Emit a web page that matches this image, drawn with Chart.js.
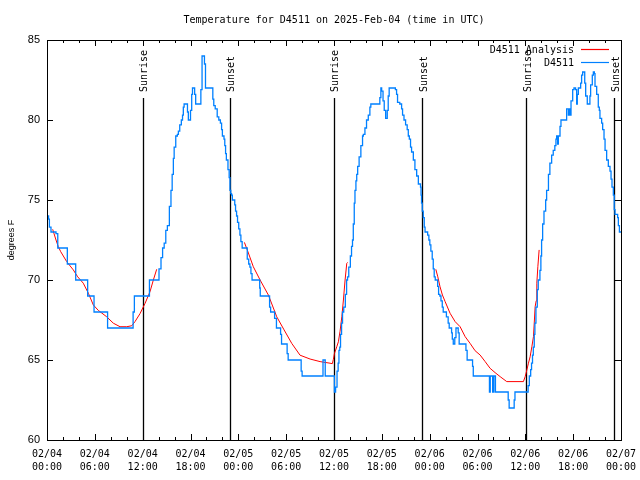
<!DOCTYPE html>
<html><head><meta charset="utf-8">
<script src="https://cdn.jsdelivr.net/npm/chart.js@4"></script>
<style>html,body{margin:0;padding:0;background:#fff}</style>
</head><body>
<canvas id="c" width="640" height="480"></canvas>
<script>
const titleText = 'Temperature for D4511 on 2025-Feb-04 (time in UTC)';
const yAxisTitle = 'degrees F';
const xTickLabels = [['02/04','00:00'],['02/04','06:00'],['02/04','12:00'],['02/04','18:00'],
  ['02/05','00:00'],['02/05','06:00'],['02/05','12:00'],['02/05','18:00'],
  ['02/06','00:00'],['02/06','06:00'],['02/06','12:00'],['02/06','18:00'],['02/07','00:00']];
const seriesNames = ['D4511 Analysis', 'D4511'];

// hours since 02/04 00:00 UTC
const blueHours = [0.0,0.2,0.3,0.5,1.13,1.35,2.55,3.6,5.1,5.9,7.6,10.8,10.96,12.85,14.05,14.3,14.5,14.7,14.9,15.1,15.35,15.55,15.7,15.85,15.95,16.15,16.35,16.48,16.65,16.85,17.0,17.1,17.2,17.62,17.73,18.0,18.15,18.25,18.52,18.65,19.3,19.45,19.75,19.88,20.8,20.92,21.1,21.35,21.55,21.75,21.9,22.0,22.2,22.3,22.4,22.5,22.7,22.85,22.95,
23.05,23.15,23.25,23.55,23.65,23.78,23.9,24.05,24.2,24.32,24.48,25.12,25.3,25.45,25.58,25.72,26.68,26.75,27.92,28.05,28.55,28.78,29.3,29.42,30.12,30.25,31.88,32.0,34.62,34.9,36.05,36.2,36.38,36.52,36.62,36.72,36.82,36.95,37.07,37.22,37.42,37.58,37.7,37.85,38.05,38.2,38.32,38.42,38.54,38.63,
38.75,38.85,38.97,39.15,39.37,39.58,39.68,39.88,40.08,40.3,40.5,40.62,41.75,41.88,41.98,42.15,42.3,42.48,42.68,42.8,42.92,43.7,43.85,43.97,44.25,44.48,44.6,44.78,44.98,45.18,45.32,45.45,45.6,45.73,45.95,46.15,46.37,46.58,46.85,46.92,46.98,47.07,47.2,47.32,47.42,47.75,47.9,48.02,48.15,48.32,48.45,48.57,48.7,
49.0,49.12,49.28,49.42,49.58,49.7,50.1,50.32,50.45,50.75,50.84,50.96,51.15,51.3,51.58,51.7,52.55,52.7,53.38,53.47,55.5,55.6,55.9,56.05,56.25,57.85,57.97,58.6,58.7,60.35,60.5,60.67,60.78,60.9,61.0,61.12,61.2,61.33,61.5,61.62,61.83,61.95,62.04,62.17,62.34,62.55,62.67,
62.9,63.08,63.3,63.5,63.7,63.84,63.93,64.05,64.14,64.35,64.47,65.18,65.4,65.5,65.6,65.73,65.94,66.1,66.3,66.44,66.52,66.65,66.94,67.06,67.19,67.45,67.57,67.77,68.1,68.19,68.4,68.53,68.66,68.74,68.95,69.15,69.28,69.36,69.57,69.7,69.87,70.0,70.2,70.41,70.62,70.75,70.87,71.04,71.15,71.25,71.58,71.67,71.8,72.0];
const blueTemps = [74.0,73.8,73.3,73.0,72.9,72.0,71.0,70.0,69.0,68.0,67.0,68.0,69.0,70.0,70.7,71.4,72.0,72.3,73.1,73.4,74.6,75.6,76.6,77.6,78.3,79.0,79.1,79.3,79.7,80.0,80.3,80.8,81.0,80.5,80.0,80.6,81.6,82.0,81.6,81.0,81.9,84.0,83.5,82.0,81.3,80.9,80.7,80.2,80.0,79.8,79.4,79.0,78.8,78.4,77.9,77.5,76.9,76.4,75.6,
75.4,75.3,75.0,74.7,74.3,74.0,73.6,73.2,72.8,72.4,72.0,71.3,71.0,70.8,70.4,70.0,69.5,69.0,68.3,68.0,67.6,67.0,66.6,66.0,65.4,65.0,64.3,64.0,65.0,64.0,63.0,63.3,64.3,64.8,65.6,65.8,66.6,67.3,68.0,68.3,69.1,70.0,70.2,70.8,71.5,72.1,72.5,73.5,74.8,75.6,
76.2,76.6,77.1,77.7,78.4,79.0,79.1,79.5,80.0,80.3,80.8,81.0,81.4,82.0,81.8,81.2,80.6,80.1,80.6,81.5,82.0,81.9,81.6,81.1,81.0,80.7,80.3,80.0,79.7,79.4,79.0,78.8,78.3,78.0,77.5,76.9,76.5,76.0,75.8,75.3,74.8,74.3,73.9,73.3,73.0,72.8,72.5,72.2,71.8,71.3,70.7,70.2,70.0,
69.6,69.1,69.0,68.7,68.3,68.0,67.7,67.3,67.0,66.7,66.3,66.0,66.4,67.0,66.7,66.0,65.6,65.0,64.6,64.0,63.0,64.0,63.0,64.0,63.0,62.5,62.0,62.5,63.0,63.4,64.0,64.4,64.8,65.3,65.8,66.6,67.3,68.3,69.4,70.0,70.6,71.5,72.5,73.5,74.3,75.0,75.6,
76.6,77.3,77.8,78.1,78.4,78.8,79.0,78.5,79.0,79.6,80.0,80.7,80.3,80.7,80.3,81.2,81.9,82.0,81.9,81.0,81.6,82.0,82.3,82.8,83.0,82.3,81.5,81.0,81.5,82.2,82.8,83.0,82.9,82.1,81.6,80.8,80.6,80.1,79.8,79.4,78.8,78.1,77.5,77.1,76.8,76.3,75.8,75.3,74.4,74.1,73.9,73.4,73.0,73.0];

// analysis (null = gap between night segments)
const redHours = [0.71,1.13,1.42,1.72,2.47,3.3,3.85,4.55,5.19,5.81,6.44,7.49,8.32,9.16,10.0,10.63,11.04,11.67,12.3,12.92,13.34,13.76,
  19.0,
  24.76,25.18,25.88,26.73,27.77,28.82,29.74,30.7,31.74,33.0,34.25,35.5,35.79,35.92,36.05,36.35,36.55,36.76,36.98,37.18,37.39,37.6,37.7,
  43.0,
  48.77,49.02,49.3,49.6,49.94,50.56,51.19,51.82,52.45,53.07,53.7,54.33,54.96,55.58,56.21,56.84,57.67,59.76,59.98,60.19,60.39,60.6,60.82,61.02,61.14,61.23,61.36,61.44,61.57,61.73];
const redTemps = [73.17,72.5,72.08,71.77,71.15,70.63,70.2,69.8,69.17,68.44,68.1,67.7,67.3,67.08,67.08,67.14,67.4,67.9,68.54,69.27,70.0,70.67,
  null,
  72.35,71.8,70.83,70.0,69.06,67.7,66.88,66.04,65.3,65.06,64.9,64.8,64.77,65.04,65.4,65.83,66.14,66.8,67.7,68.75,70.0,71.04,71.1,
  null,
  70.67,70.2,69.58,69.06,68.65,67.92,67.4,67.08,66.46,66.04,65.58,65.31,64.9,64.48,64.21,63.96,63.65,63.65,63.96,64.38,64.8,65.2,65.83,66.46,67.5,68.33,68.7,69.8,70.83,71.88];

const sunHours = [12.08, 23.0, 36.05, 47.09, 60.14, 71.18];
const sunLabels = ['Sunrise','Sunset','Sunrise','Sunset','Sunrise','Sunset'];

const MONO = '"DejaVu Sans Mono", monospace';
const SANS = '"Liberation Sans", Arial, sans-serif';
const BLUE = 'rgb(0,128,255)';
const RED = 'rgb(255,0,0)';

const gnuplotFrame = {
  id: 'gnuplotFrame',
  beforeDatasetsDraw(chart) {
    const {ctx, chartArea: a, scales: {x}} = chart;
    ctx.save();
    ctx.strokeStyle = '#000';
    ctx.lineWidth = 1.3;
    const h = a.bottom - a.top;
    sunHours.forEach((t) => {
      const px = Math.round(x.getPixelForValue(t)) + 0.5;
      ctx.beginPath();
      ctx.moveTo(px, a.bottom - 0.855 * h);
      ctx.lineTo(px, a.bottom);
      ctx.stroke();
    });
    ctx.restore();
  },
  afterDraw(chart) {
    const {ctx, chartArea: a, scales: {x, y}} = chart;
    const h = a.bottom - a.top;
    ctx.save();
    ctx.strokeStyle = '#000';
    ctx.lineWidth = 1;
    // ticks
    ctx.beginPath();
    for (let t = 2; t < 72; t += 2) {
      const px = Math.round(x.getPixelForValue(t)) + 0.5;
      const len = (t % 6 === 0) ? 6 : 3;
      ctx.moveTo(px, a.bottom); ctx.lineTo(px, a.bottom - len);
      ctx.moveTo(px, a.top); ctx.lineTo(px, a.top + len);
    }
    for (let v = 65; v < 85; v += 5) {
      const py = Math.round(y.getPixelForValue(v)) + 0.5;
      ctx.moveTo(a.left, py); ctx.lineTo(a.left + 6, py);
      ctx.moveTo(a.right, py); ctx.lineTo(a.right - 6, py);
    }
    ctx.stroke();
    // border
    ctx.strokeRect(Math.round(a.left) + 0.5, Math.round(a.top) + 0.5,
      Math.round(a.right - a.left), Math.round(a.bottom - a.top));
    // sun labels
    ctx.fillStyle = '#000';
    ctx.font = '10px ' + MONO;
    sunHours.forEach((t, i) => {
      const px = x.getPixelForValue(t);
      ctx.save();
      ctx.translate(px + 1.5, a.bottom - 0.87 * h);
      ctx.rotate(-Math.PI / 2);
      ctx.textAlign = 'left';
      ctx.textBaseline = 'middle';
      ctx.fillText(sunLabels[i], 0, 0);
      ctx.restore();
    });
    // legend
    ctx.textAlign = 'right';
    ctx.textBaseline = 'middle';
    const colors = [RED, BLUE];
    seriesNames.forEach((n, i) => {
      const ly = a.top + 10 + i * 13;
      ctx.fillStyle = '#000';
      ctx.fillText(n, a.right - 47, ly);
      ctx.strokeStyle = colors[i];
      ctx.lineWidth = 1.2;
      ctx.beginPath();
      ctx.moveTo(a.right - 40, Math.round(ly) - 0.5);
      ctx.lineTo(a.right - 12, Math.round(ly) - 0.5);
      ctx.stroke();
    });
    ctx.restore();
  }
};

new Chart(document.getElementById('c'), {
  type: 'line',
  data: {
    datasets: [
      {
        label: seriesNames[1],
        data: blueHours.map((t, i) => ({x: t, y: blueTemps[i]})),
        borderColor: BLUE,
        borderWidth: 1.3,
        pointRadius: 0,
        stepped: 'before',
        fill: false
      },
      {
        label: seriesNames[0],
        data: redHours.map((t, i) => ({x: t, y: redTemps[i]})),
        borderColor: RED,
        borderWidth: 1,
        pointRadius: 0,
        tension: 0,
        spanGaps: false,
        fill: false
      }
    ]
  },
  options: {
    responsive: false,
    animation: false,
    devicePixelRatio: 1,
    layout: {padding: {left: 0, right: 19, top: 0, bottom: 0}},
    plugins: {
      legend: {display: false},
      tooltip: {enabled: false},
      title: {
        display: true,
        text: titleText,
        fullSize: false,
        color: '#000',
        font: {family: MONO, size: 10, weight: 'normal', lineHeight: 1.2},
        padding: {top: 14, bottom: 14}
      }
    },
    scales: {
      x: {
        type: 'linear',
        min: 0, max: 72,
        grid: {display: false, drawTicks: false},
        border: {display: false},
        afterFit: (s) => { s.height = 40; s.paddingLeft = 0; s.paddingRight = 0; },
        afterBuildTicks: (s) => { s.ticks = xTickLabels.map((_, i) => ({value: i * 6})); },
        ticks: {
          autoSkip: false, maxRotation: 0, padding: 8, color: '#000',
          font: {family: MONO, size: 10, lineHeight: 1.3},
          callback: (v) => xTickLabels[Math.round(v / 6)]
        }
      },
      y: {
        min: 60, max: 85,
        grid: {display: false, drawTicks: false},
        border: {display: false},
        afterFit: (s) => { s.width = 47; },
        ticks: {stepSize: 5, padding: 7, color: '#000', font: {family: SANS, size: 11}},
        title: {display: true, text: yAxisTitle, color: '#000',
          font: {family: SANS, size: 9}, padding: {top: 6, bottom: 0}}
      }
    }
  },
  plugins: [gnuplotFrame]
});
</script>
</body></html>
